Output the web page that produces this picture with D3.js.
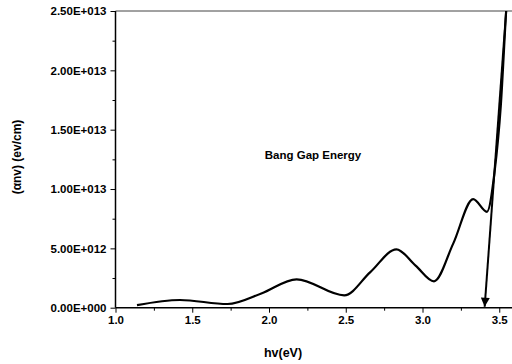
<!DOCTYPE html>
<html>
<head>
<meta charset="utf-8">
<script src="https://cdn.jsdelivr.net/npm/d3@7"></script>
<style>
  body { margin: 0; background: #fff; }
  svg { font-family: Arial, "Liberation Sans", sans-serif; font-weight: bold; }
</style>
</head>
<body>
<svg id="chart"></svg>
<script>
// energy (eV) and (αhν) values (extrema and slope midpoints)
const energy = [1.14, 1.42, 1.73, 1.95, 2.18, 2.49, 2.66, 2.83, 2.955, 3.075, 3.2, 3.33, 3.42, 3.47, 3.51, 3.545, 3.56];
const absorb = [0.22, 0.65, 0.31, 1.2, 2.39, 1.04, 3.0, 4.92, 3.55, 2.22, 5.4, 9.15, 8.08, 11.5, 17, 25, 28].map(v => v * 1e12);

const xTicks = [1.0, 1.5, 2.0, 2.5, 3.0, 3.5];
const yTicks = [0, 5e12, 1e13, 1.5e13, 2e13, 2.5e13];
const yTickLabels = ["0.00E+000", "5.00E+012", "1.00E+013", "1.50E+013", "2.00E+013", "2.50E+013"];

// band gap arrow: from the top of the curve down to the axis
const arrowFrom = [3.545, 2.5e13];
const arrowTo = [3.405, 0];

const width = 512, height = 364;
const margin = { top: 11, right: 0, bottom: 56, left: 115.5 };

const svg = d3.select("#chart").attr("width", width).attr("height", height);

const x = d3.scaleLinear()
  .domain([1.0, 1.0 + (width - margin.left) / 153.5])
  .range([margin.left, width]);
const y = d3.scaleLinear()
  .domain([0, 2.5e13])
  .range([height - margin.bottom - 0.3, margin.top]);

const defs = svg.append("defs");
defs.append("clipPath").attr("id", "clip")
  .append("rect")
  .attr("x", margin.left).attr("y", margin.top)
  .attr("width", width - margin.left).attr("height", y(0) - margin.top);
defs.append("marker")
  .attr("id", "head")
  .attr("viewBox", "0 0 10 10")
  .attr("refX", 10).attr("refY", 5)
  .attr("markerWidth", 6).attr("markerHeight", 4.5)
  .attr("markerUnits", "strokeWidth")
  .attr("orient", "auto")
  .append("path")
  .attr("d", "M0,0 L10,5 L0,10 Z")
  .attr("fill", "#000");

// top frame line
svg.append("line")
  .attr("x1", margin.left).attr("x2", width)
  .attr("y1", y(2.5e13)).attr("y2", y(2.5e13))
  .attr("stroke", "#444").attr("stroke-width", 1);

// x axis
const xAxis = svg.append("g")
  .attr("transform", `translate(0,${y(0)})`)
  .call(d3.axisBottom(x).tickValues(xTicks).tickFormat(d3.format(".1f")).tickSize(5).tickPadding(3));
svg.append("g")
  .attr("transform", `translate(0,${y(0)})`)
  .call(d3.axisBottom(x).tickValues(xTicks.map(d => d + 0.25).filter(d => d < x.domain()[1])).tickFormat("").tickSize(3))
  .call(g => g.select(".domain").remove());

// y axis
const yAxis = svg.append("g")
  .attr("transform", `translate(${margin.left},0)`)
  .call(d3.axisLeft(y).tickValues(yTicks).tickFormat((d, i) => yTickLabels[i]).tickSize(5).tickPadding(4));
svg.append("g")
  .attr("transform", `translate(${margin.left},0)`)
  .call(d3.axisLeft(y).tickValues(yTicks.slice(0, -1).map(d => d + 2.5e12)).tickFormat("").tickSize(3))
  .call(g => g.select(".domain").remove());

svg.selectAll(".tick text").attr("font-size", 11.5).attr("font-weight", "bold").attr("fill", "#000");
svg.selectAll(".domain").attr("stroke", "#000").attr("stroke-width", 1.5);
svg.selectAll(".tick line").attr("stroke", "#000").attr("stroke-width", 1);
yAxis.select(".domain").attr("d", `M0,${y(0)}V${margin.top}`);
xAxis.select(".domain").attr("d", `M${margin.left},0H${width}`);

// curve
const line = d3.line()
  .x(d => x(d[0]))
  .y(d => y(d[1]))
  .curve(d3.curveMonotoneX);

svg.append("path")
  .datum(energy.map((e, i) => [e, absorb[i]]))
  .attr("clip-path", "url(#clip)")
  .attr("d", line)
  .attr("fill", "none")
  .attr("stroke", "#000")
  .attr("stroke-width", 2.2);

// arrow
svg.append("line")
  .attr("x1", x(arrowFrom[0])).attr("y1", y(arrowFrom[1]))
  .attr("x2", x(arrowTo[0])).attr("y2", y(arrowTo[1]) - 1)
  .attr("stroke", "#000").attr("stroke-width", 2)
  .attr("marker-end", "url(#head)");

// labels
svg.append("text")
  .attr("x", 313).attr("y", 159)
  .attr("text-anchor", "middle")
  .attr("font-size", 11.5)
  .text("Bang Gap Energy");

svg.append("text")
  .attr("x", 283).attr("y", 357)
  .attr("text-anchor", "middle")
  .attr("font-size", 12.5)
  .text("hv(eV)");

svg.append("text")
  .attr("transform", "translate(21,157) rotate(-90)")
  .attr("text-anchor", "middle")
  .attr("font-size", 12)
  .text("(\u03b1nv) (ev/cm)");
</script>
</body>
</html>
